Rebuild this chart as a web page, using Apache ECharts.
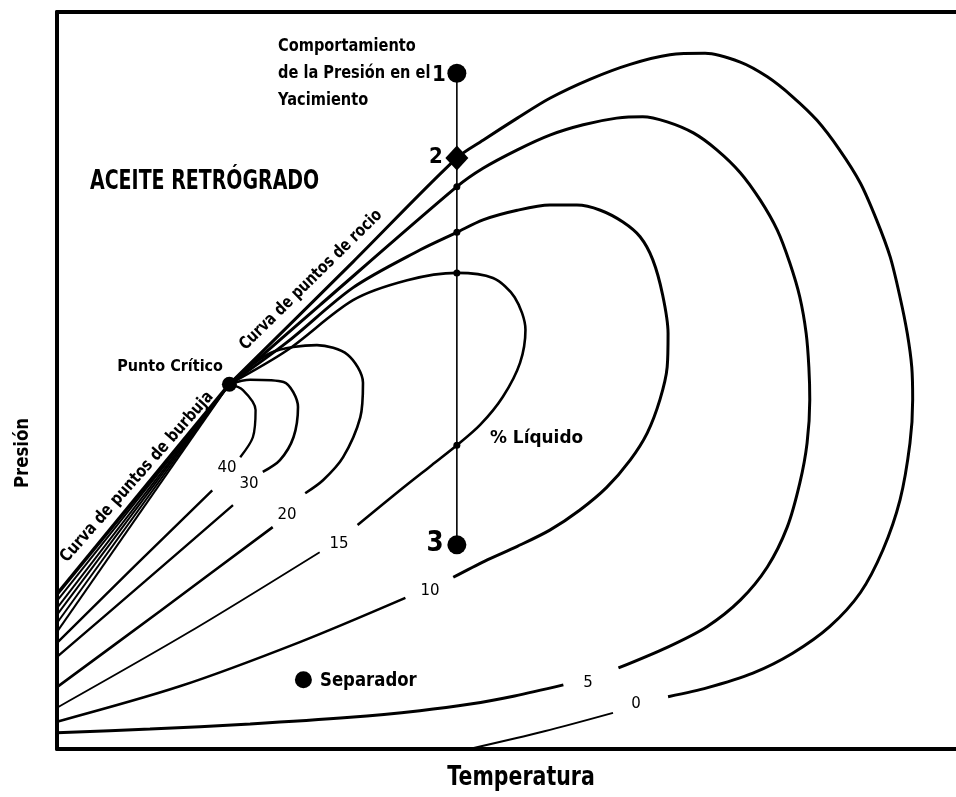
<!DOCTYPE html>
<html>
<head>
<meta charset="utf-8">
<script src="https://cdn.jsdelivr.net/npm/echarts@6/dist/echarts.min.js"></script>
<style>
  html, body { margin: 0; padding: 0; background: #fff; }
  #chart { width: 956px; height: 797px; }
</style>
</head>
<body>
<div id="chart"></div>
<script>
// ejes sin escala: temperatura y presion en unidades relativas
var critPoint = [19.1, 49.5];

// curva de rocio (0 % liquido): tramo superior + lazo, y tramo inferior
var liq0A = [[19.1,49.5],[32.8,66.1],[44.3,80.2],[47.2,82.6],[51.0,85.6],[54.6,88.3],[59.1,90.9],
  [63.5,92.9],[67.9,94.2],[71.8,94.4],[75.7,93.2],[78.7,91.2],[81.5,88.5],[84.2,85.3],[86.7,81.3],
  [89.0,76.8],[90.8,71.8],[92.3,66.8],[93.4,61.3],[94.2,56.4],[94.7,51.8],[94.8,47.4],[94.5,41.5],
  [93.4,33.8],[91.5,27.0],[89.0,21.2],[85.6,16.6],[81.5,13.0],[77.1,10.3],[72.0,8.3],[67.7,7.1]];
var liq0B = [[61.6,4.9],[54.0,2.4],[45.7,0]];

var liq5A = [[19.1,49.5],[29.1,60.2],[44.3,76.3],[47.2,78.8],[51.0,81.3],[54.6,83.3],[58.3,84.7],
  [62.0,85.6],[64.9,85.8],[67.6,85.1],[70.5,83.6],[73.1,81.3],[75.7,78.2],[77.9,74.5],[79.8,70.4],
  [81.2,65.9],[82.3,61.3],[83.0,56.4],[83.3,51.8],[83.4,47.4],[83.1,41.5],[82.3,36.1],[80.9,30.1],
  [78.7,24.7],[75.7,20.2],[72.0,16.6],[67.6,13.8],[62.2,11.0]];
var liq5B = [[56.1,8.7],[50.7,7.2],[45.8,6.1],[40.2,5.2],[32.5,4.3],[21.4,3.4],[10.3,2.7],[0,2.2]];

var liq10A = [[19.1,49.5],[25.5,55.2],[32.8,62.6],[40.2,67.7],[44.3,70.1],[47.2,71.8],[51.0,73.1],
  [54.6,73.8],[57.6,73.8],[60.2,73.1],[62.7,71.5],[64.6,69.5],[66.0,66.4],[67.1,61.6],[67.7,56.4],
  [67.6,51.8],[66.8,47.4],[65.4,42.9],[63.5,39.2],[60.9,35.5],[57.9,32.4],[54.6,29.7],[51.0,27.5],
  [47.4,25.5],[43.9,23.3]];
var liq10B = [[38.6,20.5],[26.9,14.5],[13.6,8.5],[0,3.7]];

var liq15A = [[19.1,49.5],[25.5,54.1],[32.8,60.9],[38.8,63.6],[44.3,64.6],[48.3,63.9],[50.7,61.3],
  [51.9,56.9],[51.3,52.4],[49.4,47.8],[46.9,44.0],[44.3,41.2],[41.3,38.3],[38.0,35.1],[33.3,30.4]];
var liq15B = [[29.1,26.7],[14.7,15.9],[0,5.6]];

var liq20A = [[19.1,49.5],[23.6,53.7],[28.8,54.8],[32.2,53.5],[33.9,49.7],[33.6,45.0],
  [31.7,39.6],[29.5,36.5],[27.5,34.7]];
var liq20B = [[23.9,30.1],[11.4,18.7],[0,8.4]];

var liq30A = [[19.1,49.5],[21.4,50.1],[25.1,49.8],[26.7,46.4],[26.2,42.3],[24.7,39.2],[22.8,37.6]];
var liq30B = [[19.5,33.1],[9.8,22.8],[0,12.5]];

var liq40A = [[19.1,49.5],[20.6,48.7],[22.0,46.0],[21.7,42.3],[20.3,39.6]];
var liq40B = [[17.2,35.1],[8.6,24.8],[0,14.4]];

// haz de curvas de alto % liquido que llegan al eje de presion (100 % = burbuja)
var bundleEnds = [21.0, 20.1, 19.1, 18.2, 17.1, 15.9];

// trayectoria del yacimiento
var vertT = 44.3;
var stateP = [91.7, 80.2, 27.7];          // puntos 1, 2, 3
var crossP = [76.3, 70.1, 64.6, 41.2];    // cruces con las curvas
var separator = [27.3, 9.4];

var isoLabels = ['40', '30', '20', '15', '10', '5', '0'];
var isoLabelPos = [[227,468],[249,484],[287,515],[339,544],[430,591],[588,683],[636,704]];

var FONT = '"DejaVu Sans", "Liberation Sans", sans-serif';

function lineSeries(data, width) {
  return {
    type: 'line', data: data, showSymbol: false, smooth: 0.3, silent: true,
    lineStyle: { color: '#000', width: width }, z: 2
  };
}

var series = [];
[[liq0A,3],[liq0B,2],[liq5A,3],[liq5B,3],[liq10A,3],[liq10B,2.6],[liq15A,2.6],[liq15B,1.8],
 [liq20A,2.6],[liq20B,2.6],[liq30A,2.6],[liq30B,2.4],[liq40A,2.4],[liq40B,2.4]].forEach(function (s) {
  series.push(lineSeries(s[0], s[1]));
});
bundleEnds.forEach(function (p, i) {
  series.push(lineSeries([critPoint, [0, p]], i === 0 ? 3.5 : 2));
});

// linea vertical 1-3
series.push({
  type: 'line', data: [[vertT, stateP[0]], [vertT, stateP[2]]], showSymbol: false, silent: true,
  lineStyle: { color: '#000', width: 1.6 }, z: 3
});
var dot = { color: '#000', opacity: 1 };
series.push({
  type: 'scatter', symbol: 'circle', symbolSize: 7, itemStyle: dot, z: 4, silent: true,
  data: crossP.map(function (p) { return [vertT, p]; })
});
series.push({
  type: 'scatter', symbol: 'circle', symbolSize: 19, itemStyle: dot, z: 5, silent: true,
  data: [[vertT, stateP[0]], [vertT, stateP[2]]]
});
series.push({
  type: 'scatter', symbol: 'circle', symbolSize: 17, itemStyle: dot, z: 5, silent: true,
  data: [separator]
});
series.push({
  type: 'scatter', symbol: 'diamond', symbolSize: [23, 25], itemStyle: dot, z: 5, silent: true,
  data: [[vertT, stateP[1]]]
});
series.push({
  type: 'scatter', symbol: 'circle', symbolSize: 15, itemStyle: dot, z: 5, silent: true,
  data: [critPoint]
});

function txt(x, y, s, size, opt) {
  opt = opt || {};
  return {
    type: 'text', x: x, y: y, rotation: opt.rot || 0, scaleX: opt.sx || 1, z: 10,
    style: {
      text: s, fill: '#000', font: (opt.weight || 'bold') + ' ' + size + 'px ' + FONT,
      textAlign: opt.align || 'left', textVerticalAlign: 'middle', lineHeight: opt.lh
    }
  };
}

var graphics = [
  txt(278, 73, 'Comportamiento\nde la Presión en el\nYacimiento', 18, { lh: 27, sx: 0.81 }),
  txt(439, 75, '1', 22, { align: 'center', sx: 0.9 }),
  txt(436, 157, '2', 22, { align: 'center', sx: 0.9 }),
  txt(435, 543, '3', 29, { align: 'center', sx: 0.85 }),
  txt(90, 182, 'ACEITE RETRÓGRADO', 26, { sx: 0.73 }),
  txt(223, 367, 'Punto Crítico', 16, { align: 'right', sx: 0.9 }),
  txt(311, 280, 'Curva de puntos de rocio', 17, { align: 'center', sx: 0.8, rot: 44.5 * Math.PI / 180 }),
  txt(137, 477, 'Curva de puntos de burbuja', 17, { align: 'center', sx: 0.83, rot: 48.5 * Math.PI / 180 }),
  txt(490, 438, '% Líquido', 18, { sx: 0.94 }),
  txt(320, 681, 'Separador', 19, { sx: 0.87 }),
  txt(23, 453, 'Presión', 19, { align: 'center', sx: 0.87, rot: Math.PI / 2 }),
  txt(521, 778, 'Temperatura', 27, { align: 'center', sx: 0.76 })
];
isoLabels.forEach(function (s, i) {
  graphics.push(txt(isoLabelPos[i][0], isoLabelPos[i][1], s, 15, { align: 'center', weight: 'normal' }));
});

var frame = { show: true, onZero: false, lineStyle: { color: '#000', width: 4 } };
var hidden = { show: false };

var chart = echarts.init(document.getElementById('chart'));
chart.setOption({
  backgroundColor: '#fff',
  animation: false,
  grid: { left: 57, right: 0, top: 12, bottom: 48 },
  xAxis: [
    { type: 'value', min: 0, max: 99.6, position: 'bottom', axisLine: frame,
      axisTick: hidden, axisLabel: hidden, splitLine: hidden },
    { type: 'value', min: 0, max: 99.6, position: 'top', axisLine: frame,
      axisTick: hidden, axisLabel: hidden, splitLine: hidden }
  ],
  yAxis: {
    type: 'value', min: 0, max: 100, position: 'left', axisLine: frame,
    axisTick: hidden, axisLabel: hidden, splitLine: hidden
  },
  series: series,
  graphic: graphics
});
</script>
</body>
</html>
